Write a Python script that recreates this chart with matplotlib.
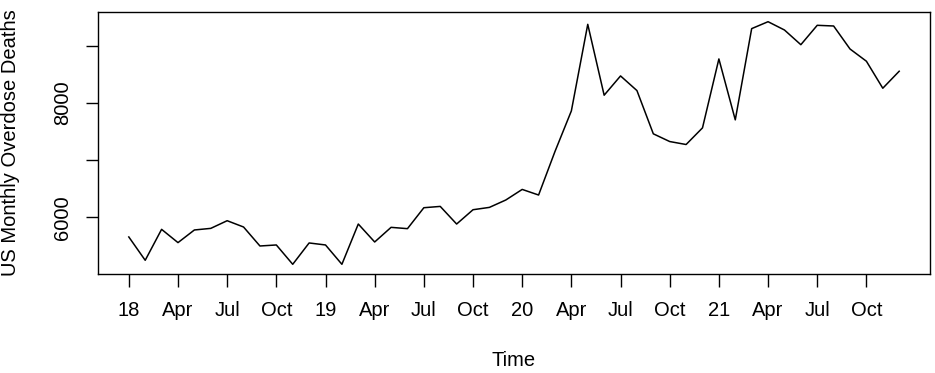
import numpy as np
import matplotlib
matplotlib.use('Agg')
import matplotlib.pyplot as plt

# monthly US overdose deaths, Jan 2018 - Dec 2021
deaths_2018 = [5658, 5250, 5791, 5559, 5780, 5808, 5942, 5832, 5500, 5518, 5180, 5553]
deaths_2019 = [5518, 5180, 5884, 5570, 5826, 5803, 6169, 6192, 5884, 6134, 6175, 6304]
deaths_2020 = [6489, 6391, 7152, 7862, 9375, 8136, 8473, 8217, 7461, 7326, 7274, 7565]
deaths_2021 = [8770, 7705, 9300, 9421, 9276, 9019, 9358, 9346, 8944, 8730, 8258, 8555]
start_year = 2018

tick_labels = ['18', 'Apr', 'Jul', 'Oct', '19', 'Apr', 'Jul', 'Oct',
               '20', 'Apr', 'Jul', 'Oct', '21', 'Apr', 'Jul', 'Oct']
y_ticks = [6000, 7000, 8000, 9000]
y_tick_labels = ['6000', '', '8000', '']


def main():
    deaths = np.array(deaths_2018 + deaths_2019 + deaths_2020 + deaths_2021)
    t = start_year + np.arange(len(deaths)) / 12.0  # like an R ts time axis

    plt.rcParams['font.family'] = ['Liberation Sans', 'DejaVu Sans']
    fs = 14.5

    fig = plt.figure(figsize=(9.35, 3.73), dpi=100)
    ax = fig.add_axes([98 / 935, 99 / 373, 832 / 935, 262 / 373])

    ax.plot(t, deaths, color='black', linewidth=1.1)

    # R style 4% padding on both axes
    xr = t.max() - t.min()
    ax.set_xlim(t.min() - 0.04 * xr, t.max() + 0.04 * xr)
    yr = deaths.max() - deaths.min()
    ax.set_ylim(deaths.min() - 0.04 * yr, deaths.max() + 0.04 * yr)

    x_ticks = start_year + np.arange(len(tick_labels)) * 0.25
    ax.set_xticks(x_ticks)
    ax.set_xticklabels(tick_labels)
    ax.set_yticks(y_ticks)
    ax.set_yticklabels(y_tick_labels, rotation=90, va='center')

    ax.tick_params(axis='both', direction='out', length=9, width=1.0,
                   color='black', labelsize=fs)
    ax.tick_params(axis='x', pad=10.5)
    ax.tick_params(axis='y', pad=9.5)

    for s in ax.spines.values():
        s.set_linewidth(1.0)
        s.set_color('black')

    ax.set_xlabel('Time', fontsize=fs, va='center')
    ax.xaxis.set_label_coords(0.5, (274 - 361) / 262)
    ax.set_ylabel('US Monthly Overdose Deaths', fontsize=fs, va='center')
    ax.yaxis.set_label_coords((11 - 98) / 832, 0.5)

    plt.savefig('out.png', dpi=100)


if __name__ == '__main__':
    main()
